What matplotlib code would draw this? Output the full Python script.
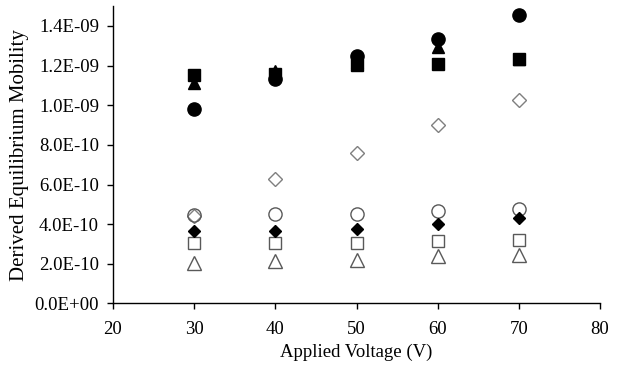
import matplotlib
matplotlib.use("Agg")
import matplotlib.pyplot as plt
from matplotlib.ticker import FuncFormatter

voltage = [30, 40, 50, 60, 70]
filled_circle = [9.80e-10, 1.13e-09, 1.25e-09, 1.335e-09, 1.455e-09]
filled_square = [1.15e-09, 1.155e-09, 1.205e-09, 1.21e-09, 1.235e-09]
filled_triangle = [1.11e-09, 1.17e-09, 1.22e-09, 1.295e-09, 1.235e-09]
open_diamond = [4.40e-10, 6.30e-10, 7.57e-10, 9.00e-10, 1.025e-09]
open_circle = [4.45e-10, 4.50e-10, 4.50e-10, 4.66e-10, 4.76e-10]
filled_diamond = [3.65e-10, 3.65e-10, 3.77e-10, 4.02e-10, 4.32e-10]
open_square = [3.05e-10, 3.05e-10, 3.06e-10, 3.15e-10, 3.20e-10]
open_triangle = [2.05e-10, 2.13e-10, 2.21e-10, 2.37e-10, 2.47e-10]

plt.rcParams['font.family'] = ['Liberation Serif', 'DejaVu Serif']

fig = plt.figure(figsize=(6.42, 3.65), dpi=100)
ax = fig.add_axes([0.176, 0.1685, 0.7586, 0.815])

ms = 9.5
gray = '#595959'
ax.plot(voltage, open_diamond, 'D', ms=ms*0.75, mfc='white', mec='#7f7f7f', mew=1.0, ls='none')
ax.plot(voltage, open_circle, 'o', ms=ms, mfc='none', mec=gray, mew=1.0, ls='none')
ax.plot(voltage, open_square, 's', ms=ms*0.95, mfc='white', mec=gray, mew=1.0, ls='none')
ax.plot(voltage, open_triangle, '^', ms=ms, mfc='white', mec=gray, mew=1.0, ls='none')
ax.plot(voltage, filled_diamond, 'D', ms=ms*0.65, color='black', ls='none')
ax.plot(voltage, filled_triangle, '^', ms=ms*0.95, color='black', ls='none')
ax.plot(voltage, filled_square, 's', ms=ms*0.95, color='black', ls='none')
ax.plot(voltage, filled_circle, 'o', ms=ms, color='black', ls='none')

ax.set_xlim(20, 80)
ax.set_ylim(0, 1.5e-9)
ax.set_xticks(range(20, 81, 10))
ax.set_yticks([i * 2e-10 for i in range(8)])

def fmt(v, pos):
    s = "%.1E" % v
    mant, exp = s.split("E")
    sign = exp[0]
    e = int(exp[1:])
    return "%sE%s%02d" % (mant, sign, e)

ax.yaxis.set_major_formatter(FuncFormatter(fmt))
for sp in ['top', 'right']:
    ax.spines[sp].set_visible(False)
for sp in ['left', 'bottom']:
    ax.spines[sp].set_linewidth(1.0)
ax.tick_params(axis='both', direction='out', length=4, width=1.0, labelsize=13.5, colors='black')
ax.tick_params(axis='x', pad=8.5)
ax.tick_params(axis='y', pad=6)
ax.set_xlabel("Applied Voltage (V)", fontsize=13.5, labelpad=4)
ax.set_ylabel("Derived Equilibrium Mobility", fontsize=15, labelpad=4)

fig.savefig("out.png", dpi=100)
